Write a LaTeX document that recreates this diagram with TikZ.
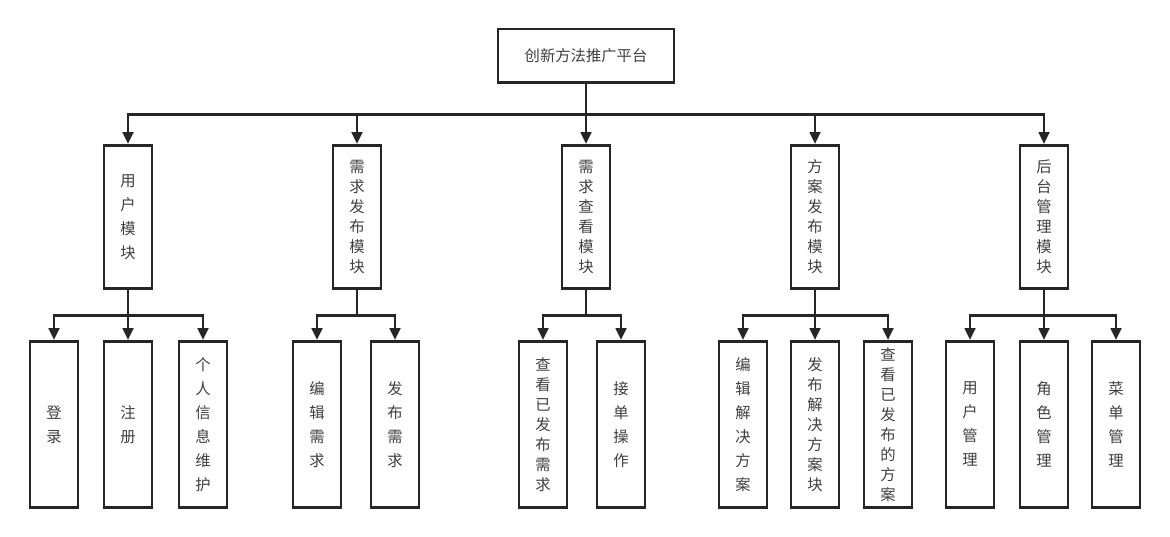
\documentclass[tikz,border=0pt]{standalone}
\usepackage{fontspec}
\newfontfamily\cjk{Noto Sans CJK SC}
\usetikzlibrary{arrows.meta}
\begin{document}
\begin{tikzpicture}[x=0.75pt,y=-0.75pt,
  box/.style={draw=black!85,line width=2pt,fill=white,inner sep=0pt,font=\cjk\fontsize{11.5}{18}\selectfont,text=black!75,align=center},
  tight/.style={font=\cjk\fontsize{11.5}{15}\selectfont},
  arr/.style={draw=black!85,line width=2pt,-{Triangle[length=9pt,width=8pt]}}]
\useasboundingbox (0,0) rectangle (1170,536);
\node[box,minimum width=132pt,minimum height=40pt] (root) at (586,55.5) {创新方法推广平台};
\newcommand\myvbox[5][]{\node[box,#1,minimum width=36pt,minimum height=#4*0.75pt,anchor=north] (#2) at (#3) {#5};}
\myvbox{m1}{128,144}{143}{用\\户\\模\\块}
\myvbox[tight]{m2}{357,144}{143}{需\\求\\发\\布\\模\\块}
\myvbox[tight]{m3}{586,144}{143}{需\\求\\查\\看\\模\\块}
\myvbox[tight]{m4}{815,144}{143}{方\\案\\发\\布\\模\\块}
\myvbox[tight]{m5}{1044,144}{143}{后\\台\\管\\理\\模\\块}
\myvbox{a1}{54,340}{166}{登\\录}
\myvbox{a2}{128,340}{166}{注\\册}
\myvbox{a3}{203,340}{166}{个\\人\\信\\息\\维\\护}
\myvbox{b1}{317,340}{166}{编\\辑\\需\\求}
\myvbox{b2}{395,340}{166}{发\\布\\需\\求}
\myvbox[tight]{c1}{543,340}{166}{查\\看\\已\\发\\布\\需\\求}
\myvbox{c2}{621,340}{166}{接\\单\\操\\作}
\myvbox{d1}{743,340}{166}{编\\辑\\解\\决\\方\\案}
\myvbox[tight]{d2}{815,340}{166}{发\\布\\解\\决\\方\\案\\块}
\myvbox[tight]{d3}{888,340}{166}{查\\看\\已\\发\\布\\的\\方\\案}
\myvbox{e1}{970,340}{166}{用\\户\\管\\理}
\myvbox{e2}{1044,340}{166}{角\\色\\管\\理}
\myvbox{e3}{1116,340}{166}{菜\\单\\管\\理}
\foreach \m in {m1,m2,m3,m4,m5}{\draw[arr] (root.south) -- ++(0,31) -| (\m.north);}
\foreach \p/\c in {m1/a1,m1/a2,m1/a3,m2/b1,m2/b2,m3/c1,m3/c2,m4/d1,m4/d2,m4/d3,m5/e1,m5/e2,m5/e3}{\draw[arr] (\p.south) -- ++(0,26) -| (\c.north);}
\end{tikzpicture}
\end{document}
